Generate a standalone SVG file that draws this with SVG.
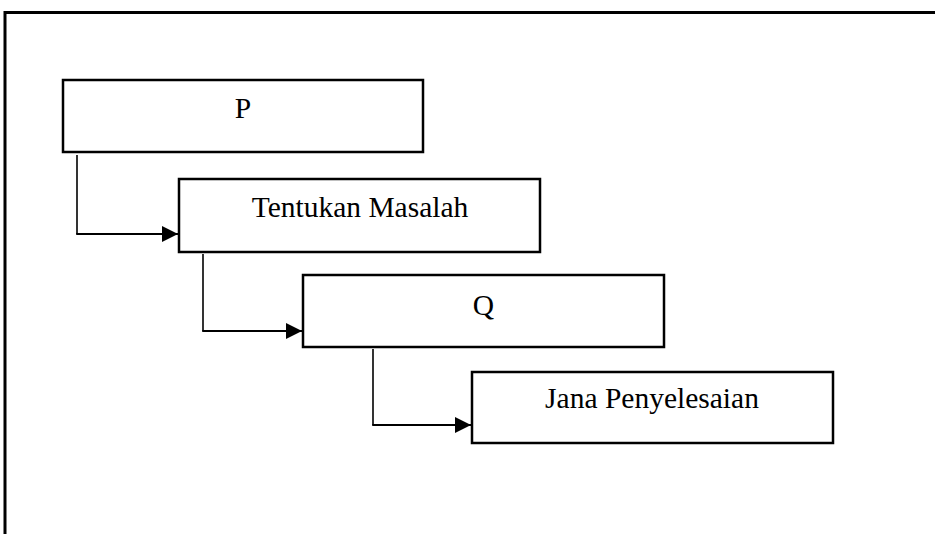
<svg xmlns="http://www.w3.org/2000/svg" width="935" height="534" viewBox="0 0 935 534">
<defs>
<style>
.box{fill:#fff;stroke:#000;stroke-width:2.5}
.lbl{font-family:"Liberation Serif","Times New Roman",serif;font-size:29.5px;fill:#000;text-anchor:middle}
.vert{fill:none;stroke:#000;stroke-width:1.6}
.horiz{fill:none;stroke:#000;stroke-width:2.2}
.frame{fill:none;stroke:#000;stroke-width:3}
</style>
<marker id="arr" viewBox="0 0 16 16" refX="16" refY="8" markerWidth="16" markerHeight="16" markerUnits="userSpaceOnUse" orient="auto">
<path d="M0,0 L16,8 L0,16 Z" fill="#000"/>
</marker>
</defs>
<rect width="935" height="534" fill="#fff"/>
<path class="frame" d="M5,534 L5,12.5 L935,12.5"/>
<g id="nodeP">
<rect class="box" x="63" y="80" width="360" height="72"/>
<text class="lbl" x="243" y="118">P</text>
</g>
<g id="nodeTentukan">
<rect class="box" x="179" y="179" width="361" height="73"/>
<text class="lbl" x="360" y="217">Tentukan Masalah</text>
</g>
<g id="nodeQ">
<rect class="box" x="303" y="275" width="361" height="72"/>
<text class="lbl" x="483.5" y="315">Q</text>
</g>
<g id="nodeJana">
<rect class="box" x="472" y="372" width="361" height="71"/>
<text class="lbl" x="652" y="408">Jana Penyelesaian</text>
</g>
<g id="connectors">
<path class="vert" d="M77,155 L77,234"/>
<path class="horiz" d="M76.2,234 L178,234" marker-end="url(#arr)"/>
<path class="vert" d="M203,254 L203,331"/>
<path class="horiz" d="M202.2,331 L302,331" marker-end="url(#arr)"/>
<path class="vert" d="M373,349 L373,425"/>
<path class="horiz" d="M372.2,425 L471,425" marker-end="url(#arr)"/>
</g>
</svg>
